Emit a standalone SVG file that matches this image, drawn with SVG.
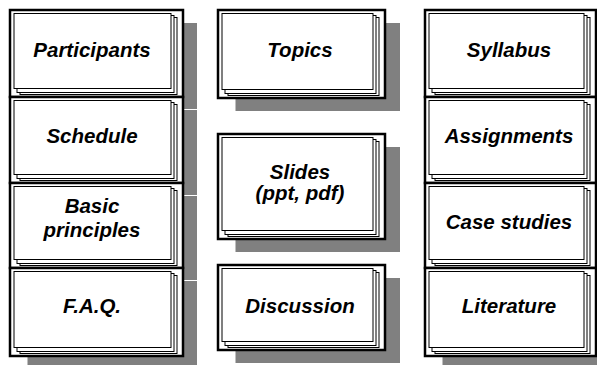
<svg xmlns="http://www.w3.org/2000/svg" width="597" height="365" viewBox="0 0 597 365">
<style>
.bg{fill:#ffffff}
.sh{fill:#808080}
.outer{fill:#ffffff;stroke:#000000;stroke-width:2.5}
.card{fill:#ffffff;stroke:#000000;stroke-width:1}
.lbl{font-family:"Liberation Sans",Arial,sans-serif;font-size:20.5px;font-weight:bold;font-style:italic;fill:#000000;text-anchor:middle}
</style>
<defs>
<g id="cards87">
</g>
</defs>
<rect class="bg" x="0" y="0" width="597" height="365"/>
<g id="shadows">
<rect class="sh" x="27.5" y="23" width="169.5" height="86"/>
<rect class="sh" x="27.5" y="110" width="169.5" height="85"/>
<rect class="sh" x="27.5" y="196" width="169.5" height="84"/>
<rect class="sh" x="27.5" y="281" width="169.5" height="90"/>
<rect class="sh" x="235.5" y="23" width="164.5" height="88"/>
<rect class="sh" x="235.5" y="147" width="164.5" height="105"/>
<rect class="sh" x="235.5" y="278" width="164.5" height="85"/>
<rect class="sh" x="442.5" y="23" width="170" height="86"/>
<rect class="sh" x="442.5" y="110" width="170" height="85"/>
<rect class="sh" x="442.5" y="196" width="170" height="84"/>
<rect class="sh" x="442.5" y="281" width="170" height="90"/>
</g>
<g id="participants">
<rect class="outer" x="10" y="10" width="173" height="87"/>
<rect class="card" x="20" y="17.5" width="157" height="77"/>
<rect class="card" x="17" y="15.5" width="157" height="77"/>
<rect class="card" x="14" y="13.5" width="157" height="75"/>
<text class="lbl" x="92" y="57">Participants</text>
</g>
<g id="schedule">
<rect class="outer" x="10" y="97" width="173" height="86"/>
<rect class="card" x="20" y="104.5" width="157" height="76"/>
<rect class="card" x="17" y="102.5" width="157" height="76"/>
<rect class="card" x="14" y="100.5" width="157" height="74"/>
<text class="lbl" x="92" y="143">Schedule</text>
</g>
<g id="basic-principles">
<rect class="outer" x="10" y="183" width="173" height="85"/>
<rect class="card" x="20" y="190.5" width="157" height="75"/>
<rect class="card" x="17" y="188.5" width="157" height="75"/>
<rect class="card" x="14" y="186.5" width="157" height="73"/>
<text class="lbl" x="92" y="213">Basic</text>
<text class="lbl" x="92" y="237">principles</text>
</g>
<g id="faq">
<rect class="outer" x="10" y="268" width="173" height="88"/>
<rect class="card" x="20" y="275.5" width="157" height="78"/>
<rect class="card" x="17" y="273.5" width="157" height="78"/>
<rect class="card" x="14" y="271.5" width="157" height="76"/>
<text class="lbl" x="92" y="313">F.A.Q.</text>
</g>
<g id="topics">
<rect class="outer" x="218" y="10" width="167" height="88"/>
<rect class="card" x="228" y="17.5" width="151" height="78"/>
<rect class="card" x="225" y="15.5" width="151" height="78"/>
<rect class="card" x="222" y="13.5" width="151" height="76"/>
<text class="lbl" x="300" y="57">Topics</text>
</g>
<g id="slides">
<rect class="outer" x="218" y="134" width="167" height="105"/>
<rect class="card" x="228" y="141.5" width="151" height="95"/>
<rect class="card" x="225" y="139.5" width="151" height="95"/>
<rect class="card" x="222" y="137.5" width="151" height="93"/>
<text class="lbl" x="300" y="179">Slides</text>
<text class="lbl" x="300" y="200">(ppt, pdf)</text>
</g>
<g id="discussion">
<rect class="outer" x="218" y="265" width="167" height="85"/>
<rect class="card" x="228" y="272.5" width="151" height="75"/>
<rect class="card" x="225" y="270.5" width="151" height="75"/>
<rect class="card" x="222" y="268.5" width="151" height="73"/>
<text class="lbl" x="300" y="313">Discussion</text>
</g>
<g id="syllabus">
<rect class="outer" x="425" y="10" width="171" height="87"/>
<rect class="card" x="435" y="17.5" width="155" height="77"/>
<rect class="card" x="432" y="15.5" width="155" height="77"/>
<rect class="card" x="429" y="13.5" width="155" height="75"/>
<text class="lbl" x="509" y="57">Syllabus</text>
</g>
<g id="assignments">
<rect class="outer" x="425" y="97" width="171" height="86"/>
<rect class="card" x="435" y="104.5" width="155" height="76"/>
<rect class="card" x="432" y="102.5" width="155" height="76"/>
<rect class="card" x="429" y="100.5" width="155" height="74"/>
<text class="lbl" x="509" y="143">Assignments</text>
</g>
<g id="case-studies">
<rect class="outer" x="425" y="183" width="171" height="85"/>
<rect class="card" x="435" y="190.5" width="155" height="75"/>
<rect class="card" x="432" y="188.5" width="155" height="75"/>
<rect class="card" x="429" y="186.5" width="155" height="73"/>
<text class="lbl" x="509" y="229">Case studies</text>
</g>
<g id="literature">
<rect class="outer" x="425" y="268" width="171" height="88"/>
<rect class="card" x="435" y="275.5" width="155" height="78"/>
<rect class="card" x="432" y="273.5" width="155" height="78"/>
<rect class="card" x="429" y="271.5" width="155" height="76"/>
<text class="lbl" x="509" y="313">Literature</text>
</g>
<g id="connectors"></g>
</svg>
